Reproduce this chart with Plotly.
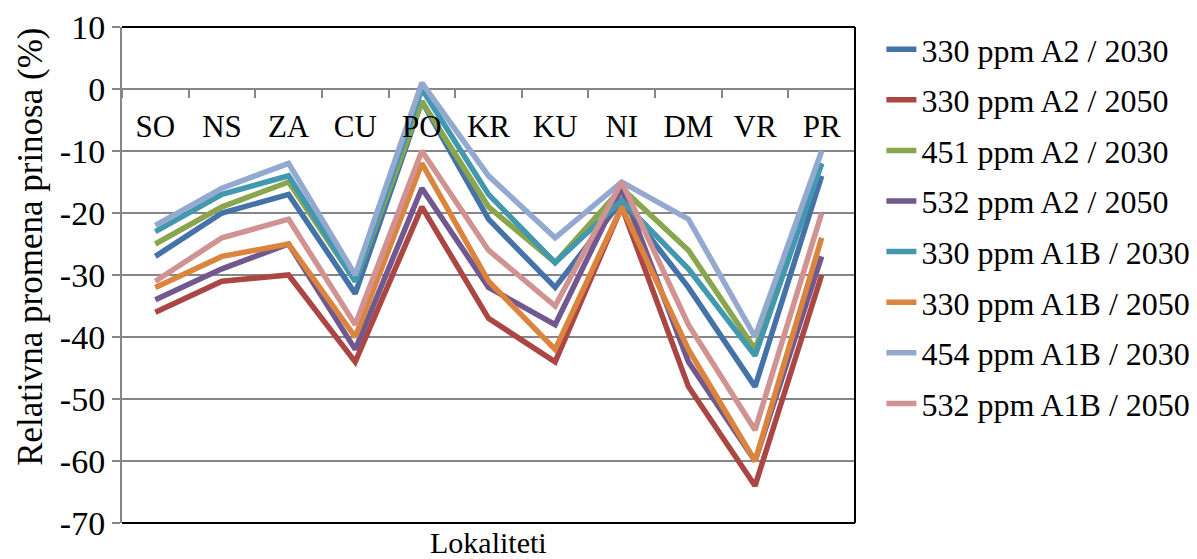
import plotly.graph_objects as go

lokaliteti = ["SO", "NS", "ZA", "CU", "PO", "KR", "KU", "NI", "DM", "VR", "PR"]

s_330_a2_2030 = [-27, -20, -17, -33, -2, -21, -32, -18, -32, -48, -14]
s_330_a2_2050 = [-36, -31, -30, -44, -19, -37, -44, -19, -48, -64, -30]
s_451_a2_2030 = [-25, -19, -15, -31, -2, -19, -28, -16, -26, -42, -12]
s_532_a2_2050 = [-34, -29, -25, -42, -16, -32, -38, -16, -44, -60, -27]
s_330_a1b_2030 = [-23, -17, -14, -31, 0, -17, -28, -18, -29, -43, -12]
s_330_a1b_2050 = [-32, -27, -25, -40, -12, -31, -42, -19, -42, -60, -24]
s_454_a1b_2030 = [-22, -16, -12, -30, 1, -14, -24, -15, -21, -40, -10]
s_532_a1b_2050 = [-31, -24, -21, -38, -10, -26, -35, -15, -38, -55, -20]

y_ticks = [10, 0, -10, -20, -30, -40, -50, -60, -70]
y_tick_labels = ["10", "0", "-10", "-20", "-30", "-40", "-50", "-60", "-70"]

serije = [
    ("330 ppm A2 / 2030", s_330_a2_2030, "#4572A7"),
    ("330 ppm A2 / 2050", s_330_a2_2050, "#AA4643"),
    ("451 ppm A2 / 2030", s_451_a2_2030, "#89A54E"),
    ("532 ppm A2 / 2050", s_532_a2_2050, "#71588F"),
    ("330 ppm A1B / 2030", s_330_a1b_2030, "#4198AF"),
    ("330 ppm A1B / 2050", s_330_a1b_2050, "#DB843D"),
    ("454 ppm A1B / 2030", s_454_a1b_2030, "#93A9CF"),
    ("532 ppm A1B / 2050", s_532_a1b_2050, "#D19392"),
]

y_min, y_max = -70, 10
FONT = "Liberation Serif, Times New Roman, serif"
GRID = "#868686"

fig = go.Figure()
for i, (ime, vrednosti, boja) in enumerate(serije):
    fig.add_trace(go.Scatter(
        x=lokaliteti, y=vrednosti, name=ime, mode="lines",
        line=dict(color=boja, width=5.5), legendgroup=str(i),
    ))

# x osa sece y osu u nuli
zero_pos = (0 - y_min) / (y_max - y_min)

# stranica ima 8px margine u body, pa je figura za 8px manja
fig.update_layout(
    width=1189, height=551,
    margin=dict(l=114, r=342, t=19, b=36, autoexpand=False),
    paper_bgcolor="white", plot_bgcolor="white",
    font=dict(family=FONT, color="black"),
    showlegend=True,
    legend=dict(
        x=1.036, y=0.598, xanchor="left", yanchor="middle",
        font=dict(size=32, family=FONT), tracegroupgap=6,
        itemwidth=30, bgcolor="rgba(0,0,0,0)",
    ),
    xaxis=dict(
        type="category", range=[-0.5, len(lokaliteti) - 0.5],
        anchor="free", position=zero_pos, automargin=False,
        showgrid=False, showline=False, zeroline=False,
        ticks="outside", tickson="boundaries", ticklen=8, tickwidth=1.5,
        tickcolor=GRID, ticklabelstandoff=16,
        tickfont=dict(size=31, family=FONT),
    ),
    yaxis=dict(
        range=[y_min, y_max], tickvals=y_ticks, ticktext=y_tick_labels,
        automargin=False,
        showgrid=True, gridcolor=GRID, gridwidth=1.5,
        zeroline=False,
        showline=True, linecolor=GRID, linewidth=2,
        ticks="outside", ticklen=8, tickwidth=1.5, tickcolor=GRID,
        tickfont=dict(size=34, family=FONT),
    ),
    annotations=[
        dict(text="Relativna promena prinosa (%)", textangle=-90,
             xref="paper", yref="paper", x=-0.124, y=0.557,
             xanchor="center", yanchor="middle", showarrow=False,
             font=dict(size=35, family=FONT)),
        dict(text="Lokaliteti", xref="paper", yref="paper", x=0.5, y=-0.039,
             xanchor="center", yanchor="middle", showarrow=False,
             font=dict(size=30, family=FONT)),
    ],
    shapes=[
        dict(type="line", xref="paper", yref="paper", x0=0, x1=1, y0=1, y1=1,
             line=dict(color="black", width=2)),
        dict(type="line", xref="paper", yref="paper", x0=0, x1=1, y0=0, y1=0,
             line=dict(color="black", width=2)),
        dict(type="line", xref="paper", yref="paper", x0=1, x1=1, y0=0, y1=1,
             line=dict(color="black", width=2)),
    ],
)

fig.write_html("out.html")
